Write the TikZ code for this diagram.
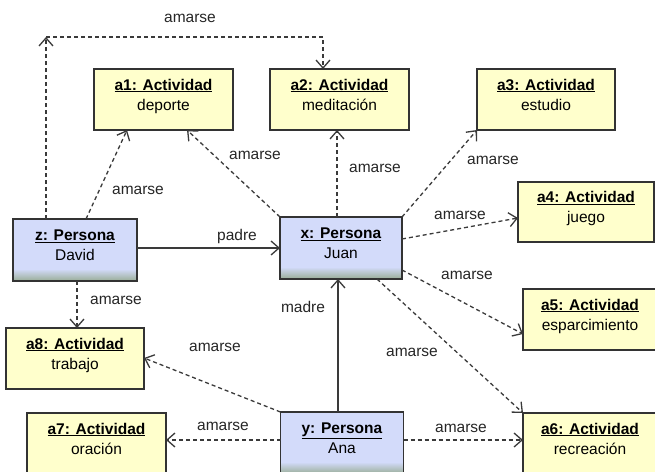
\documentclass[tikz,border=0pt]{standalone}
\usepackage{fontspec}
\setmainfont{Liberation Sans}
\usepackage{xcolor}
\usetikzlibrary{arrows.meta}

\definecolor{amarillo}{HTML}{FFFFCC}
\definecolor{azul}{HTML}{D3DBFA}
\definecolor{grisverde}{HTML}{9DB09D}
\definecolor{borde}{HTML}{333333}
\definecolor{linea}{HTML}{3A3A3A}

\tikzset{
  caja/.style={draw=borde, line width=1.3pt, outer sep=0pt, inner sep=0pt,
    align=center, font=\fontsize{15.5}{20}\selectfont, text depth=10pt},
  actividad/.style={caja, fill=amarillo, minimum height=61},
  persona/.style={caja, fill=azul, minimum width=123, minimum height=62,
    path picture={
      \foreach \i in {0,...,11}{
        \pgfmathtruncatemacro{\mezcla}{100-\i*9}
        \fill[azul!\mezcla!grisverde] ([yshift=12pt-\i pt]path picture bounding box.south west)
          rectangle ([yshift=11pt-\i pt]path picture bounding box.south east);
      }}},
  punta/.style={-{Straight Barb[length=8pt,width=14pt]}},
  amarse/.style={draw=linea, line width=1.3pt, dash pattern=on 4pt off 3pt, punta},
  enlace/.style={draw=linea, line width=1.3pt, punta},
  etiqueta/.style={font=\fontsize{15.5}{18}\selectfont, text=black!85}
}

\begin{document}
\begin{tikzpicture}[x=1pt, y=-1pt]
\useasboundingbox (0,0) rectangle (655,471);

% Row of activities at the top
\node[actividad, minimum width=139] (a1) at (163.5,99.5) {\underline{\textbf{a1: Actividad}}\\deporte};
\node[actividad, minimum width=139] (a2) at (339.5,99.5) {\underline{\textbf{a2: Actividad}}\\meditación};
\node[actividad, minimum width=138] (a3) at (546,99.5) {\underline{\textbf{a3: Actividad}}\\estudio};

% Activities on the right
\node[actividad, minimum width=136, minimum height=60] (a4) at (586,212) {\underline{\textbf{a4: Actividad}}\\juego};
\node[actividad, minimum width=134] (a5) at (590,319.5) {\underline{\textbf{a5: Actividad}}\\esparcimiento};
\node[actividad, minimum width=134] (a6) at (590,443.5) {\underline{\textbf{a6: Actividad}}\\recreación};

% Activities on the left
\node[actividad, minimum width=138] (a8) at (75,358.5) {\underline{\textbf{a8: Actividad}}\\trabajo};
\node[actividad, minimum width=139] (a7) at (96.5,443.5) {\underline{\textbf{a7: Actividad}}\\oración};

% The three persons
\node[persona, minimum width=124] (z) at (75,250) {\underline{\textbf{z: Persona}}\\David};
\node[persona, minimum width=122] (x) at (341,248) {\underline{\textbf{x: Persona}}\\Juan};
\node[persona] (y) at (342,443) {\underline{\textbf{y: Persona}}\\Ana};

% padre and madre
\draw[enlace] (x.west -| z.east) -- (x.west);
\node[etiqueta] (lpadre) at (237,236) {padre};
\draw[enlace] ([xshift=-4]y.north) -- ([xshift=-4]y.north |- x.south);
\node[etiqueta] (lmadre) at (303,307) {madre};

% amarse from z
\coordinate (esquina) at (46,37);
\draw[amarse] ([xshift=33]z.north west) -- (esquina);
\draw[amarse] (esquina) -| ([xshift=53]a2.north west);
\node[etiqueta] (l1) at (190,18) {amarse};
\draw[amarse] ([xshift=73]z.north west) -- ([xshift=33]a1.south west);
\node[etiqueta] (l2) at (138,190) {amarse};
\draw[amarse] ([xshift=2]z.south) -- ([xshift=2]z.south |- a8.north);
\node[etiqueta] (l3) at (116,300) {amarse};

% amarse from x
\draw[amarse] (x.north west) -- ([xshift=93]a1.south west);
\node[etiqueta] (l4) at (255,155) {amarse};
\draw[amarse] ([xshift=-4]x.north) -- ([xshift=-4]x.north |- a2.south);
\node[etiqueta] (l5) at (375,168) {amarse};
\draw[amarse] (x.north east) -- (a3.south west);
\node[etiqueta] (l6) at (493,160) {amarse};
\draw[amarse] ([yshift=-22]x.north east) -- ([yshift=-36]a4.north west);
\node[etiqueta] (l7) at (460,215) {amarse};
\draw[amarse] ([yshift=9]x.south east) -- ([yshift=-45]a5.north west);
\node[etiqueta] (l8) at (467,275) {amarse};
\draw[amarse] ([xshift=-25]x.south east) -- (a6.north west);
\node[etiqueta] (l9) at (412,352) {amarse};

% amarse from y
\draw[amarse] (y.north west) -- ([yshift=-30]a8.north east);
\node[etiqueta] (l10) at (215,347) {amarse};
\draw[amarse] ([yshift=-28]y.north west) -- ([yshift=-28]y.north west -| a7.east);
\node[etiqueta] (l11) at (223,426) {amarse};
\draw[amarse] ([yshift=-28]y.north east) -- ([yshift=-28]y.north east -| a6.west);
\node[etiqueta] (l12) at (461,428) {amarse};

\end{tikzpicture}
\end{document}
